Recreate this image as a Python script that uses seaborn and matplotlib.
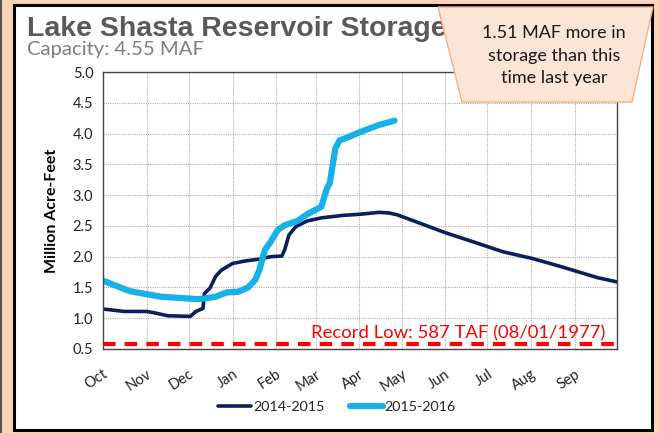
import numpy as np
import pandas as pd
import matplotlib
matplotlib.use("Agg")
import matplotlib.pyplot as plt
import seaborn as sns
from matplotlib.patches import Rectangle, Polygon
from matplotlib.lines import Line2D
from matplotlib.transforms import ScaledTranslation

# ---- data (day = days since Oct 1) ----
days_1415 = [0, 15, 31, 36, 46, 62, 66, 71, 72, 76, 80, 84, 92, 101, 111, 119, 127, 129,
             132, 137, 145, 155, 170, 183, 196, 203, 209, 222, 243, 263, 284, 305, 325, 351, 365]
maf_1415 = [1.15, 1.11, 1.11, 1.09, 1.04, 1.03, 1.11, 1.16, 1.40, 1.49, 1.68, 1.78, 1.89, 1.93,
            1.96, 2.00, 2.01, 2.11, 2.35, 2.49, 2.58, 2.63, 2.67, 2.69, 2.72, 2.71, 2.68, 2.57,
            2.39, 2.24, 2.08, 1.97, 1.84, 1.66, 1.59]
days_1516 = [0, 10, 19, 31, 41, 54, 67, 72, 80, 88, 96, 103, 108, 111, 115, 119, 124, 129,
             138, 145, 155, 159, 161, 165, 168, 174, 181, 189, 196, 207]
maf_1516 = [1.61, 1.52, 1.44, 1.39, 1.35, 1.33, 1.31, 1.32, 1.35, 1.42, 1.43, 1.50, 1.62, 1.78,
            2.11, 2.24, 2.43, 2.51, 2.58, 2.69, 2.81, 3.11, 3.19, 3.76, 3.89, 3.94, 4.01, 4.08,
            4.14, 4.21]
series_names = ["2014-2015", "2015-2016"]
month_labels = ["Oct", "Nov", "Dec", "Jan", "Feb", "Mar", "Apr", "May", "Jun", "Jul", "Aug", "Sep"]
month_starts = [0, 31, 61, 92, 123, 151, 182, 212, 243, 273, 304, 335]
record_low = 0.587
title = "Lake Shasta Reservoir Storage"
subtitle = "Capacity: 4.55 MAF"
callout = "1.51 MAF more in\nstorage than this\ntime last year"
record_text = "Record Low: 587 TAF (08/01/1977)"

df = pd.concat([
    pd.DataFrame({"day": days_1415, "maf": maf_1415, "season": series_names[0]}),
    pd.DataFrame({"day": days_1516, "maf": maf_1516, "season": series_names[1]}),
])

sns.set_theme(style="white")
body_font = ["Lato", "DejaVu Sans"]
plt.rcParams["font.family"] = body_font

W, H = 659, 433
fig = plt.figure(figsize=(W / 100, H / 100), dpi=100, facecolor="#FBD5B5")

def fx(x): return x / W
def fy(y): return 1 - y / H

# white panel (behind everything)
fig.patches.append(Rectangle((fx(14), fy(430)), fx(652) - fx(14), fy(5) - fy(430),
                             transform=fig.transFigure, facecolor="white",
                             edgecolor="black", lw=2.2, zorder=-5))
fig.add_artist(Line2D([fx(1), fx(1)], [0, 1], transform=fig.transFigure, color="#555555",
                      lw=1.5, zorder=-4))

ax = fig.add_axes([fx(103), fy(349), fx(617) - fx(103), fy(72) - fy(349)])
ax.set_zorder(1)
ax.set_facecolor("none")

palette = {series_names[0]: "#0B1F5E", series_names[1]: "#17B1EA"}
sns.lineplot(data=df, x="day", y="maf", hue="season", palette=palette, ax=ax,
             legend=False, sort=False)
ax.lines[0].set_linewidth(2.6)
ax.lines[1].set_linewidth(4.5)

ax.axhline(record_low, color="#FF0000", lw=3, ls=(0, (3, 2.2)), zorder=3)
ax.text(357, record_low + 0.04, record_text, color="#FF0000", ha="right", va="bottom",
        fontsize=13.3, family=body_font)

ax.set_xlim(0, 365)
ax.set_ylim(0.5, 5.0)
ax.set_xticks(month_starts)
ax.set_xticklabels(month_labels, rotation=33, ha="right", va="top", rotation_mode="anchor",
                   fontsize=10.5, color="#222222")
off = ScaledTranslation(5 / 100, 0, fig.dpi_scale_trans)
for lbl in ax.get_xticklabels():
    lbl.set_transform(lbl.get_transform() + off)
yt = np.arange(0.5, 5.01, 0.5)
ax.set_yticks(yt)
ax.set_yticklabels([f"{v:.1f}" for v in yt], fontsize=10.5, color="#222222")
ax.set_xlabel("")
ax.set_ylabel("Million Acre-Feet", fontsize=11.5, fontweight="bold", color="black", labelpad=10)
ax.tick_params(axis="both", direction="out", length=4, width=0.8, color="#777777", pad=3)
ax.tick_params(axis="x", pad=9)
for v in yt[1:-1]:
    ax.axhline(v, color="#B0B0B0", lw=0.8, ls=(0, (1, 1)), zorder=0)
for d in month_starts[1:]:
    ax.axvline(d, color="#B0B0B0", lw=0.8, ls=(0, (1, 1)), zorder=0)
for s in ax.spines.values():
    s.set_visible(True)
    s.set_color("#444444")
    s.set_linewidth(1.0)

# title texts
fig.text(fx(27), fy(29), title, fontsize=20.5, fontweight="bold", color="#595959",
         family=["Liberation Sans", "DejaVu Sans"], ha="left", va="center")
fig.text(fx(27), fy(50), subtitle, fontsize=14.6, color="#7F7F7F", ha="left", va="center")

# callout
poly = Polygon([(fx(438), fy(7)), (fx(653), fy(7)), (fx(632), fy(102)), (fx(462), fy(102))],
               closed=True, transform=fig.transFigure, facecolor="#FCE4D6",
               edgecolor="#F4B183", lw=1.0, zorder=5)
fig.add_artist(poly)
fig.text(fx(554), fy(56), callout, fontsize=13.0, color="#1A1A1A", ha="center", va="center",
         linespacing=1.5, zorder=6)

# legend
handles = [Line2D([], [], color=palette[series_names[0]], lw=2.6),
           Line2D([], [], color=palette[series_names[1]], lw=4.5)]
fig.legend(handles, series_names, loc="center", bbox_to_anchor=(fx(337), fy(407)),
           ncol=2, frameon=False, fontsize=10.3, handlelength=2.3, handletextpad=0.1,
           columnspacing=1.8)

fig.savefig("out.png", dpi=100, facecolor=fig.get_facecolor())
